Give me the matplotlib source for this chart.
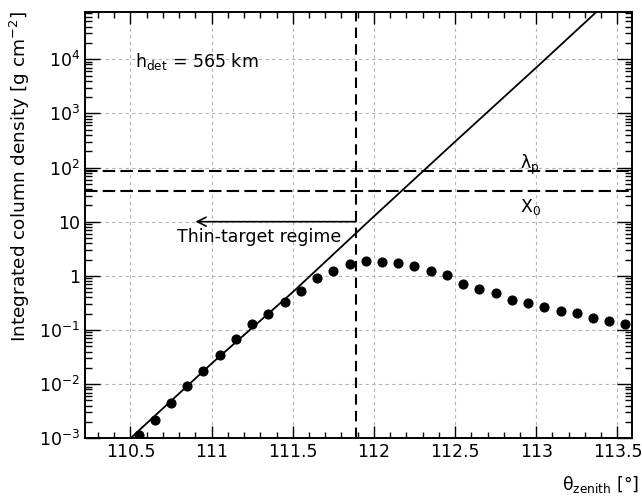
import numpy as np
import matplotlib.pyplot as plt
from matplotlib.ticker import FixedLocator, LogLocator, MultipleLocator, NullFormatter

plt.rcParams['font.family'] = ['DejaVu Sans']
plt.rcParams['mathtext.fontset'] = 'dejavusans'

# zenith angle of each bin centre [deg] and integrated column density [g cm^-2]
theta = [110.55, 110.65, 110.75, 110.85, 110.95, 111.05, 111.15, 111.25,
         111.35, 111.45, 111.55, 111.65, 111.75, 111.85, 111.95, 112.05,
         112.15, 112.25, 112.35, 112.45, 112.55, 112.65, 112.75, 112.85,
         112.95, 113.05, 113.15, 113.25, 113.35, 113.45, 113.55]
density = [1.15e-3, 2.15e-3, 4.4e-3, 9.3e-3, 1.78e-2, 3.5e-2, 6.7e-2, 0.129,
           0.198, 0.327, 0.528, 0.906, 1.22, 1.67, 1.87, 1.81,
           1.74, 1.53, 1.25, 1.03, 0.72, 0.56, 0.479, 0.36,
           0.317, 0.271, 0.223, 0.205, 0.168, 0.149, 0.128]

# straight-path atmosphere (solid line)
line_theta = [110.5, 111.0, 111.5, 112.0, 112.5, 113.0, 113.5]
line_density = [1e-3, 2.4e-2, 0.5, 12.5, 3.0e2, 7.0e3, 1.7e5]

lambda_p = 86.5     # proton interaction length
x0 = 36.3           # radiation length
theta_thin = 111.89  # edge of thin-target regime
theta_arrow = 110.9

xticks = [110.5, 111, 111.5, 112, 112.5, 113, 113.5]
xtick_labels = ['110.5', '111', '111.5', '112', '112.5', '113', '113.5']
yticks = [1e-3, 1e-2, 1e-1, 1, 10, 1e2, 1e3, 1e4]
ytick_labels = ['10$^{-3}$', '10$^{-2}$', '10$^{-1}$', '1', '10',
                '10$^{2}$', '10$^{3}$', '10$^{4}$']

fs = 12.5

fig = plt.figure(figsize=(6.42, 4.98), dpi=100)
ax = fig.add_axes([0.1324, 0.1199, 0.852, 0.857])
ax.set_yscale('log')
ax.set_xlim(110.22, 113.59)
ax.set_ylim(1e-3, 7.6e4)

ax.plot(line_theta, line_density, color='k', lw=1.3)
ax.plot(theta, density, 'o', color='k', ms=6.3)

dash = (0, (6, 2.5))
ax.axhline(lambda_p, color='k', lw=1.5, ls=dash)
ax.axhline(x0, color='k', lw=1.5, ls=dash)
ax.axvline(theta_thin, color='k', lw=1.5, ls=(0, (5, 3)))
ax.annotate('', xy=(theta_arrow, 10), xytext=(theta_thin, 10),
            arrowprops=dict(arrowstyle='->', color='k', lw=1.2,
                            shrinkA=0, shrinkB=0, mutation_scale=16))

ax.text(111.29, 4.2, 'Thin-target regime', fontsize=fs, ha='center', va='baseline')
ax.text(112.9, 94.6, 'λ$_{\\rm p}$', fontsize=fs, ha='left', va='baseline')
ax.text(112.9, 15.1, 'X$_{\\rm 0}$', fontsize=fs, ha='left', va='baseline')
ax.text(110.525, 7.3e3, 'h$_{\\rm det}$ = 565 km', fontsize=fs, ha='left', va='baseline')

# axes, ticks, grid
ax.xaxis.set_major_locator(FixedLocator(xticks))
ax.set_xticklabels(xtick_labels)
ax.xaxis.set_minor_locator(MultipleLocator(0.1))
ax.yaxis.set_major_locator(FixedLocator(yticks))
ax.set_yticklabels(ytick_labels)
ax.yaxis.set_minor_locator(LogLocator(base=10, subs=np.arange(2, 10), numticks=100))
ax.yaxis.set_minor_formatter(NullFormatter())

ax.grid(True, which='major', color='#b4b4b4', ls=(0, (3, 3)), lw=0.8)
ax.tick_params(which='both', direction='in', top=True, right=True,
               width=1.0, labelsize=fs, pad=3.5)
ax.tick_params(axis='y', which='major', length=11)
ax.tick_params(axis='y', which='minor', length=5)
ax.tick_params(axis='x', which='major', length=8.5)
ax.tick_params(axis='x', which='minor', length=4.5)
for sp in ax.spines.values():
    sp.set_linewidth(1.4)

fig.text(20 / 642, 1 - 11.5 / 498, 'Integrated column density [g cm$^{-2}$]',
         fontsize=13.3, rotation=90, ha='center', va='top')
fig.text(639 / 642, 8 / 498, 'θ$_{\\rm zenith}$ [°]', fontsize=fs,
         ha='right', va='baseline')

fig.savefig('out.png', dpi=100)
